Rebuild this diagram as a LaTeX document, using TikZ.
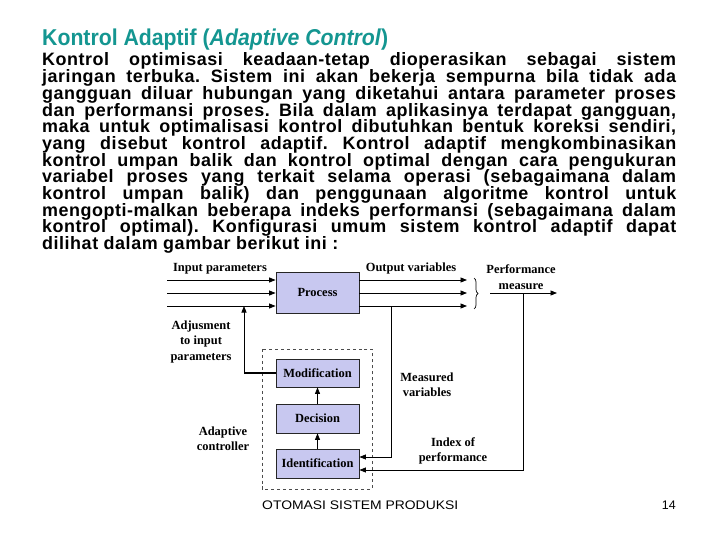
\documentclass[tikz,border=0pt]{standalone}
\usepackage{fontspec}
\setmainfont{Liberation Serif}
\newfontfamily\arialf{Liberation Sans}
\newfontfamily\arialsp{Liberation Sans}[LetterSpace=3]
\usetikzlibrary{arrows.meta,decorations.pathreplacing}
\definecolor{titleteal}{RGB}{20,150,145}
\definecolor{boxfill}{RGB}{200,200,240}
\begin{document}
\begin{tikzpicture}[x=1bp,y=-1bp,
 blk/.style={draw=black!85,fill=boxfill,line width=0.8bp,minimum width=83bp,inner sep=0pt,font=\fontsize{12.5}{12.5}\selectfont\bfseries},
 lbl/.style={font=\fontsize{12.5}{15.5}\selectfont\bfseries,align=center,inner sep=0pt},
 conn/.style={line width=0.8bp},
 arr/.style={conn,-{Triangle[length=6.5bp,width=5bp]}}]
\useasboundingbox (0,0) rectangle (720,540);
\fill[white] (0,0) rectangle (720,540);
% title
\node[anchor=base west, inner sep=0pt, text=titleteal, font=\arialf\bfseries\fontsize{23}{23}\selectfont] (title) at (42,46) {\resizebox{346bp}{\height}{Kontrol Adaptif (\textit{Adaptive Control})}};
% body
\node[anchor=base west, inner sep=0pt, font=\arialsp\bfseries\fontsize{18}{16.75}\selectfont] (body) at (42,66) {\parbox[t]{634bp}{\frenchspacing\lineskiplimit=-100pt\lineskip=0pt
Kontrol optimisasi keadaan-tetap dioperasikan sebagai sistem\linebreak
jaringan terbuka. Sistem ini akan bekerja sempurna bila tidak ada\linebreak
gangguan diluar hubungan yang diketahui antara parameter proses\linebreak
dan performansi proses. Bila dalam aplikasinya terdapat gangguan,\linebreak
maka untuk optimalisasi kontrol dibutuhkan bentuk koreksi sendiri,\linebreak
yang disebut kontrol adaptif. Kontrol adaptif mengkombinasikan\linebreak
kontrol umpan balik dan kontrol optimal dengan cara pengukuran\linebreak
variabel proses yang terkait selama operasi (sebagaimana dalam\linebreak
kontrol umpan balik) dan penggunaan algoritme kontrol untuk\linebreak
mengopti-malkan beberapa indeks performansi (sebagaimana dalam\linebreak
kontrol optimal). Konfigurasi umum sistem kontrol adaptif dapat\linebreak
dilihat dalam gambar berikut ini :}};
% footer
\node[anchor=base west, inner sep=0pt, font=\arialf\fontsize{12.5}{12.5}\selectfont] (foot) at (262,509) {\resizebox{196bp}{\height}{OTOMASI SISTEM PRODUKSI}};
\node[anchor=base east, inner sep=0pt, font=\arialf\fontsize{12.5}{12.5}\selectfont] (page) at (676,509) {14};
% blocks
\node[blk, minimum height=41bp] (proc) at (317.5,292.5) {Process};
\node[blk, minimum height=28bp] (modif) at (317.5,373) {Modification};
\node[blk, minimum height=29bp] (decis) at (317.5,418.5) {Decision};
\node[blk, minimum height=29bp] (ident) at (317.5,463.5) {Identification};
\draw[dashed, draw=black!70, line width=0.7bp] (262,349) rectangle (372,489);
% input lines
\coordinate (in1) at (167,280);
\coordinate (in2) at (167,293);
\coordinate (in3) at (167,306);
\draw[arr] (in1) -- (in1 -| proc.west);
\draw[arr] (in2) -- (in2 -| proc.west);
\draw[arr] (in3) -- (in3 -| proc.west);
% output lines
\coordinate (out1) at (467,280);
\coordinate (out2) at (467,293);
\coordinate (out3) at (467,306);
\draw[arr] (out1 -| proc.east) -- (out1);
\draw[arr] (out2 -| proc.east) -- (out2);
\draw[arr] (out3 -| proc.east) -- (out3);
% brace
\draw[decorate, decoration={brace, amplitude=4bp}, line width=0.7bp] (474,278) -- (474,309);
\coordinate (pm0) at (490,293);
\coordinate (pm1) at (557,293);
\draw[arr] (pm0) -- (pm1);
% index of performance
\coordinate (ip1) at (523,293);
\coordinate (ip2) at (523,470);
\draw[arr] (ip1) -- (ip2) -- (ip2 -| ident.east);
% measured variables
\coordinate (mv1) at (391,306);
\coordinate (mv2) at (391,457);
\draw[arr] (mv1) -- (mv2) -- (mv2 -| ident.east);
% controller internal
\draw[arr] (ident) -- (decis);
\draw[arr] (decis) -- (modif);
% adjustment
\coordinate (ad1) at (244,373);
\coordinate (ad2) at (244,306);
\draw[conn, line width=1.6bp] (modif.west) -- (ad1);
\draw[arr] (ad1) -- (ad2);
% labels
\node[lbl] (linp) at (220,269) {Input parameters};
\node[lbl] (lout) at (411,269) {Output variables};
\node[lbl] (lperf) at (521,277) {Performance\\measure};
\node[lbl] (ladj) at (201,342) {Adjusment\\to input\\parameters};
\node[lbl] (lac) at (223,439) {Adaptive\\controller};
\node[lbl] (lmv) at (427,385) {Measured\\variables};
\node[lbl] (lip) at (453,451) {Index of\\performance};
\end{tikzpicture}
\end{document}
